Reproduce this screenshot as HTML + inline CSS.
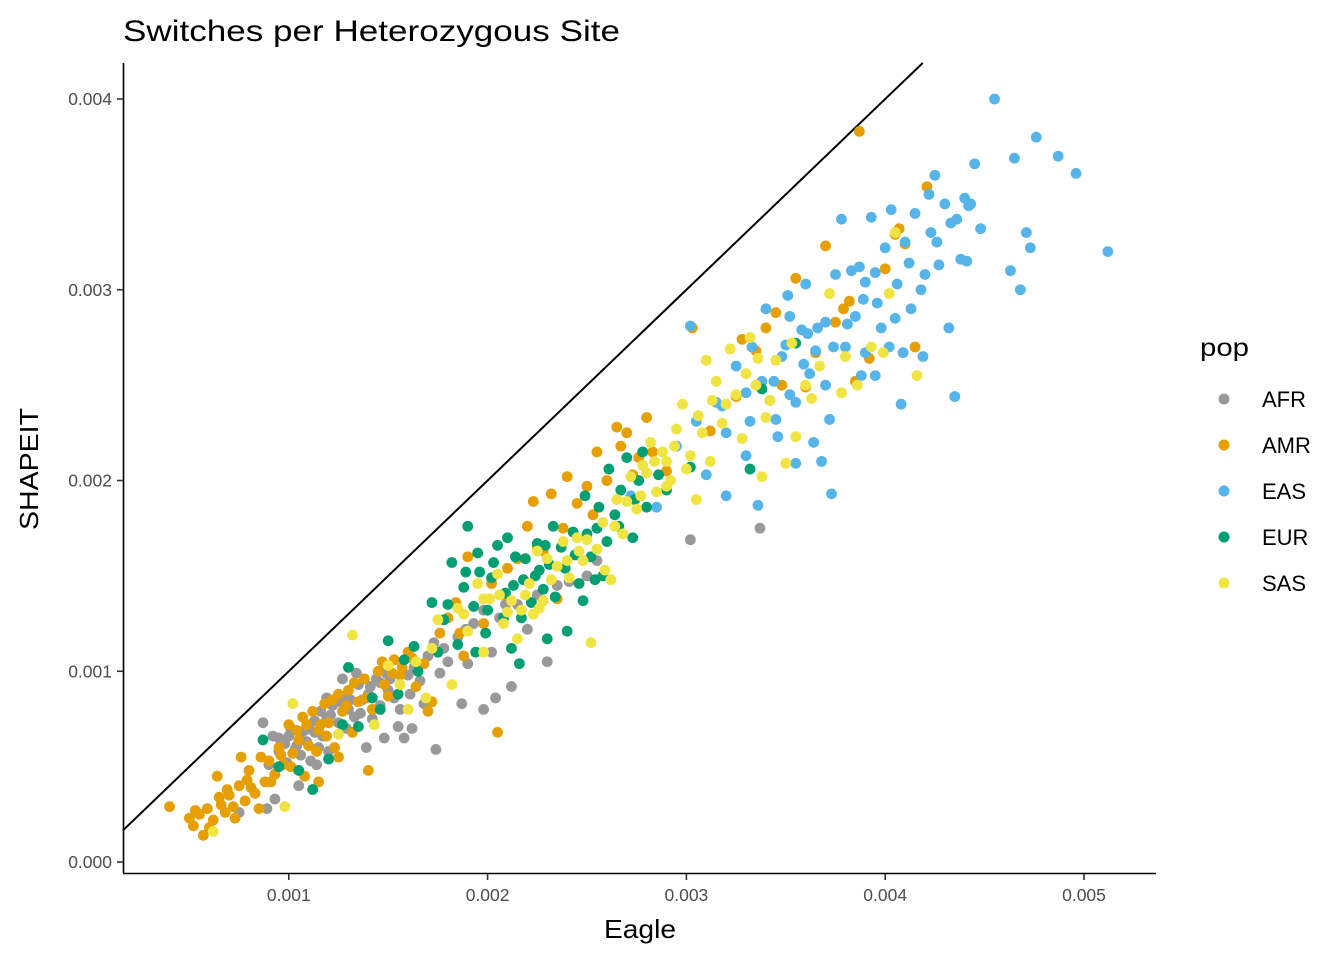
<!DOCTYPE html>
<html><head><meta charset="utf-8">
<style>
html,body{margin:0;padding:0;background:#fff;}
svg{display:block;font-family:"Liberation Sans",Arial,sans-serif;}
</style></head>
<body>
<svg id="chart" width="1344" height="960" viewBox="0 0 1344 960" xmlns="http://www.w3.org/2000/svg">
<text x="123" y="41" font-size="30" textLength="497" lengthAdjust="spacingAndGlyphs" fill="#000">Switches per Heterozygous Site</text>
<g id="plot"></g>
<line x1="123" y1="873.5" x2="1156" y2="873.5" stroke="#000" stroke-width="1.6"/>
<line x1="123.5" y1="63" x2="123.5" y2="873" stroke="#000" stroke-width="1.6"/>
<g id="xticks"></g>
<g id="yticks"></g>
<text x="604" y="938" font-size="26" textLength="72" lengthAdjust="spacingAndGlyphs" fill="#000">Eagle</text>
<text transform="translate(38,530) rotate(-90)" font-size="26" textLength="122" lengthAdjust="spacingAndGlyphs" fill="#000">SHAPEIT</text>
<g id="legend">
<text x="1200" y="356" font-size="25" textLength="49" lengthAdjust="spacingAndGlyphs" fill="#000">pop</text>
</g>
</svg>
<script>
const xTicks=[0.001,0.002,0.003,0.004,0.005];
const yTicks=[0.000,0.001,0.002,0.003,0.004];
const xTickLabels=["0.001","0.002","0.003","0.004","0.005"];
const yTickLabels=["0.000","0.001","0.002","0.003","0.004"];
const pops=["AFR","AMR","EAS","EUR","SAS"];
const popColors=["#999999","#E69F00","#56B4E9","#009E73","#F0E442"];
// values in units of 1e-4
const afr=[[8.7,7.3],[9.2,6.6],[9.5,5.8],[9.8,6.2],[10.0,6.6],[10.3,5.9],[10.6,6.5],[10.8,6.9],[11.0,7.2],[11.3,6.8],[11.6,7.9],[11.9,7.5],[12.2,8.2],[12.5,7.3],[12.8,8.7],[13.0,8.0],[13.3,7.6],[13.5,9.3],[13.7,8.5],[14.0,8.8],[14.2,7.5],[14.4,9.6],[14.6,8.2],[14.8,10.1],[15.0,9.0],[15.3,8.6],[15.5,7.1],[15.8,6.5],[16.0,9.8],[16.3,10.2],[16.6,9.5],[17.0,10.8],[17.3,11.5],[17.6,9.9],[18.0,10.5],[18.5,11.8],[19.0,10.4],[19.3,12.5],[19.8,13.2],[20.2,11.0],[20.6,12.8],[21.2,9.2],[21.5,13.5],[22.0,12.2],[22.5,14.0],[23.0,10.5],[24.1,14.7],[25.5,15.8],[30.2,16.9],[33.7,17.5],[17.4,5.9],[8.9,2.8],[9.3,3.3],[7.5,2.6],[10.5,4.0],[11.4,5.1],[12.0,5.8],[13.9,6.0],[14.8,6.5],[16.2,7.0],[18.7,8.3],[12.7,9.6],[19.8,8.0],[20.4,8.6],[9.9,5.2],[11.1,5.3],
[9.5,6.5],[10.1,7.0],[10.4,6.1],[10.9,6.3],[11.3,7.4],[11.7,6.6],[12.1,7.7],[12.6,8.4],[13.1,8.5],[13.6,7.8],[14.1,9.2],[14.6,9.4],[15.1,9.6],[15.6,8.0],[16.1,8.8],[12.9,7.0],[11.5,6.0],[10.6,5.6],[13.4,9.9],[14.9,9.9],[17.8,11.2],[18.9,12.2],[20.9,13.5],[23.5,14.5],[25.0,15.0],[16.8,8.3],[11.9,8.6],[9.0,5.1]];
const amr=[[4,2.9],[5,2.3],[5.2,1.9],[5.5,2.5],[5.7,1.4],[5.9,2.8],[6.2,2.2],[6.4,4.5],[6.6,3.0],[6.8,2.6],[7,3.5],[7.2,2.9],[7.5,4.0],[7.6,5.5],[7.8,3.2],[8,4.8],[8.3,3.6],[8.5,2.8],[8.8,4.2],[9,5.3],[9.3,4.6],[9.5,6.0],[9.7,5.1],[10,7.2],[10.2,5.7],[10.5,6.4],[10.7,7.6],[11,6.1],[11.2,7.9],[11.5,6.9],[11.8,8.3],[12,7.3],[12.3,6.0],[12.5,8.8],[12.7,7.9],[13,9.0],[13.2,6.8],[13.5,8.4],[13.8,9.6],[14,4.8],[14.2,8.0],[14.5,10.0],[14.8,9.3],[15,8.7],[15.3,10.6],[15.6,9.8],[16,11.0],[16.4,9.2],[16.8,10.4],[17.2,8.4],[17.6,12.0],[18,12.8],[18.4,13.6],[18.8,10.8],[19,16],[19.3,13.4],[19.8,12.5],[20.2,14.6],[20.5,6.8],[21,15.4],[21.5,15.9],[22,17.6],[22.3,18.9],[22.8,16.3],[23.2,19.3],[23.5,13.8],[24,20.2],[24.5,18.8],[25,19.7],[25.5,21.5],[26,20.0],[26.5,22.8],[27,22.5],[27.6,21.2],[28,23.3],[29,20.5],[30.3,28.0],[31.2,22.6],[32.5,24.4],[33.5,26.8],[34.5,28.8],[35.5,30.6],[36.5,26.7],[37,32.3],[37.5,28.3],[38.2,29.4],[38.7,38.3],[38.5,25.2],[40,31.1],[40.5,32.9],[41,32.4],[41.5,27.0],[42.1,35.4],[36,24.9],[34.8,25.0],[10.8,4.5],[12.5,5.5],[15.2,9.9],[17,7.9],[11.5,4.2],
[5.3,2.7],[6.0,1.8],[6.9,3.8],[7.3,2.3],[7.9,4.3],[8.6,5.5],[9.1,4.2],[9.6,5.6],[10.1,5.0],[10.4,6.9],[10.9,7.2],[11.4,5.8],[11.9,6.6],[12.2,8.5],[12.9,8.2],[13.3,9.4],[13.9,8.6],[14.7,10.5],[15.7,10.2],[16.2,10.7],[18.6,12.0],[20.8,14.0],[22.5,16.5],[23.8,17.5],[25.3,18.2],[26.7,21.8],[28.3,21.5],[27.3,20.3],[32.8,27.4],[34.0,28.0],[37.9,29.0],[39.2,26.4],[40.7,33.2],[11.6,7.2],[8.1,3.9],[6.5,3.4]];
const eas=[[27.2,19.2],[28.5,18.6],[29.5,21.8],[30.2,28.1],[30.5,23.1],[31,20.3],[31.5,24.1],[32,22.5],[32.5,26.0],[33,24.6],[33.3,27.0],[33.8,25.2],[34,29.0],[34.5,23.2],[34.8,26.5],[35.2,28.6],[35.5,24.1],[35.8,27.9],[36,30.3],[36.2,25.6],[36.5,26.8],[36.8,21.0],[37,28.3],[37.2,23.2],[37.5,30.8],[37.8,33.7],[38,27.0],[38.3,31.0],[38.5,28.6],[38.8,25.5],[39,26.7],[39.3,33.8],[39.5,30.9],[39.8,28.0],[40,32.2],[40.3,34.2],[40.5,28.5],[40.8,24.0],[41,32.5],[41.3,29.0],[41.5,34.0],[41.8,30.0],[42,30.8],[42.2,35.0],[42.5,36.0],[42.7,31.3],[43,34.5],[43.3,33.5],[43.5,24.4],[43.8,31.6],[44,34.8],[44.2,34.4],[44.5,36.6],[44.8,33.2],[45.5,40.0],[46.3,31.0],[46.5,36.9],[46.8,30.0],[47.1,33.0],[47.3,32.2],[47.6,38.0],[48.7,37.0],[49.6,36.1],[51.2,32.0],[37.3,19.3],[35.5,20.9],[33.6,18.7],[32,19.2],[39.5,25.5],[41.9,26.5],[43.2,28.0],[36.1,27.7],[34.2,24.2],[38.7,31.2],[40.2,27.0],[42.3,33.0],[44.1,31.5],[35.1,29.7],
[31.8,23.9],[33.2,23.1],[34.4,25.2],[35.0,27.1],[35.9,26.1],[36.6,28.0],[37.4,27.0],[38.1,28.2],[38.9,29.5],[39.6,29.3],[40.6,30.3],[41.2,31.4],[42.6,32.5],[43.6,33.7],[44.3,34.5],[37.0,25.0],[35.2,24.5],[39.0,30.4],[40.9,26.7],[36.4,22.0],[34.6,22.3],[33.0,21.3]];
const eur=[[8.7,6.4],[10.5,4.8],[11.2,3.8],[12.0,5.4],[13.5,7.1],[14.2,8.6],[15.0,11.6],[15.8,10.6],[16.5,10.0],[17.2,13.6],[17.8,12.7],[18.2,15.7],[18.5,11.4],[18.8,14.4],[19,17.6],[19.3,13.4],[19.6,15.2],[19.9,12.0],[20.2,14.9],[20.5,16.6],[20.8,12.8],[21,17.0],[21.3,14.5],[21.6,10.4],[21.9,15.9],[22.2,13.6],[22.5,16.7],[22.8,14.3],[23.1,15.6],[23.4,13.9],[23.7,16.5],[24,12.1],[24.3,17.3],[24.6,14.6],[24.9,19.2],[25.2,16.0],[25.5,17.5],[25.8,15.0],[26.1,20.6],[26.4,18.2],[26.7,19.5],[27,21.2],[27.3,17.0],[27.6,20.0],[28,18.6],[29,19.5],[30.2,20.7],[33.2,20.6],[33.8,24.8],[35.5,27.2],[20,13.2],[21.7,12.8],[23,11.7],[12.7,7.2],[15.5,8.8],[22.6,15.3],[24.8,13.7],
[18.0,13.5],[18.9,15.2],[19.5,16.2],[20.3,15.7],[20.9,14.1],[21.4,16.0],[21.8,14.8],[22.4,15.0],[22.9,16.6],[23.3,17.6],[23.9,15.4],[24.4,16.1],[25.0,17.2],[25.6,18.6],[26.0,16.8],[26.6,17.6],[27.4,19.0],[27.8,21.5],[28.6,20.3],[17.5,11.0],[16.3,11.3],[19.4,11.0],[21.2,11.2],[25.4,14.8],[13.0,10.2],[14.6,8.0],[9.5,5.0]];
const sas=[[6.2,1.6],[9.8,2.9],[10.2,8.3],[12.5,6.7],[13.2,11.9],[14.3,7.2],[15,10.3],[16,8.0],[16.9,8.6],[17.5,12.7],[18.2,9.3],[18.5,13.3],[19,12.1],[19.5,14.6],[19.8,11.0],[20.1,13.8],[20.5,15.1],[20.8,12.5],[21.2,13.7],[21.5,11.7],[21.9,14.0],[22.3,13.0],[22.5,16.3],[22.8,13.7],[23.2,14.8],[23.5,15.5],[23.8,16.8],[24.1,14.9],[24.5,17.0],[24.8,15.8],[25.2,11.5],[25.5,16.4],[25.8,17.8],[26.2,14.8],[26.5,19.0],[26.8,17.2],[27.2,20.2],[27.5,18.5],[27.8,20.8],[28.2,22.0],[28.5,19.4],[28.8,21.5],[29.2,20.0],[29.5,22.7],[29.8,24.0],[30.2,21.3],[30.5,19.0],[30.8,22.5],[31.2,21.0],[31.5,25.2],[31.8,23.0],[32.2,26.9],[32.5,24.5],[32.8,22.2],[33.2,27.5],[33.5,25.0],[33.8,20.2],[34.2,24.2],[34.5,26.3],[35,20.9],[35.5,22.3],[36,25.0],[36.7,26.0],[37.2,29.8],[38,26.5],[38.6,25.0],[39.9,26.7],[40.2,29.8],[40.5,33.0],[41.6,25.5],[31,26.3],[29,19.7],
[18.8,13.0],[19.8,13.8],[20.6,14.0],[21.0,13.1],[21.7,13.2],[22.1,14.6],[22.6,13.3],[23.0,15.9],[24.0,15.8],[24.6,16.3],[25.0,16.9],[25.9,15.3],[26.4,17.6],[27.0,18.9],[27.7,19.2],[28.0,20.4],[28.4,21.0],[29.0,21.0],[29.4,21.8],[30.0,20.6],[30.6,23.4],[31.3,24.2],[32.0,24.0],[33.0,25.6],[33.6,26.4],[34.0,23.3],[35.3,27.2],[36.3,24.3],[37.8,24.6],[39.3,27.0],[15.6,9.3],[16.4,10.5],[17.2,11.2]];
const series=[afr,amr,eas,eur,sas];

const NS="http://www.w3.org/2000/svg";
function xs(v){return 90+v*198800;}
function ys(v){return 862-v*190750;}
function mk(tag,attrs,parent){const e=document.createElementNS(NS,tag);for(const k in attrs)e.setAttribute(k,attrs[k]);parent.appendChild(e);return e;}

const plot=document.getElementById('plot');
const lo=(123-90)/198800, hiY=(862-63)/190750;
const ln=mk('line',{x1:xs(lo),y1:ys(lo),x2:xs(hiY),y2:ys(hiY),stroke:'#000','stroke-width':2},plot);



series.forEach((arr,i)=>{
  const g=mk('g',{},plot);
  
  
  arr.forEach(p=>{
    const c=mk('circle',{cx:xs(p[0]*1e-4),cy:ys(p[1]*1e-4),r:5.4,fill:popColors[i]},g);
    
    
  });
});

const xg=document.getElementById('xticks');
xTicks.forEach((v,i)=>{
  const t=mk('line',{x1:xs(v),y1:874,x2:xs(v),y2:880,stroke:'#333','stroke-width':1.6},xg);
  
  
  const tx=mk('text',{x:xs(v),y:901,'font-size':17.5,'text-anchor':'middle',fill:'#4d4d4d'},xg);
  tx.textContent=xTickLabels[i];
  
  
});
const yg=document.getElementById('yticks');
yTicks.forEach((v,i)=>{
  const t=mk('line',{x1:117,y1:ys(v),x2:123,y2:ys(v),stroke:'#333','stroke-width':1.6},yg);
  
  
  const tx=mk('text',{x:112,y:ys(v)+6,'font-size':17.5,'text-anchor':'end',fill:'#4d4d4d'},yg);
  tx.textContent=yTickLabels[i];
  
  
});

const lg=document.getElementById('legend');
pops.forEach((p,i)=>{
  const y=399+i*46;
  const g=mk('g',{},lg);
  
  
  mk('circle',{cx:1224,cy:y,r:5.5,fill:popColors[i]},g);
  const t=mk('text',{x:1262,y:y+8,'font-size':22,fill:'#000'},g);
  t.textContent=p;
});
</script>
</body></html>
